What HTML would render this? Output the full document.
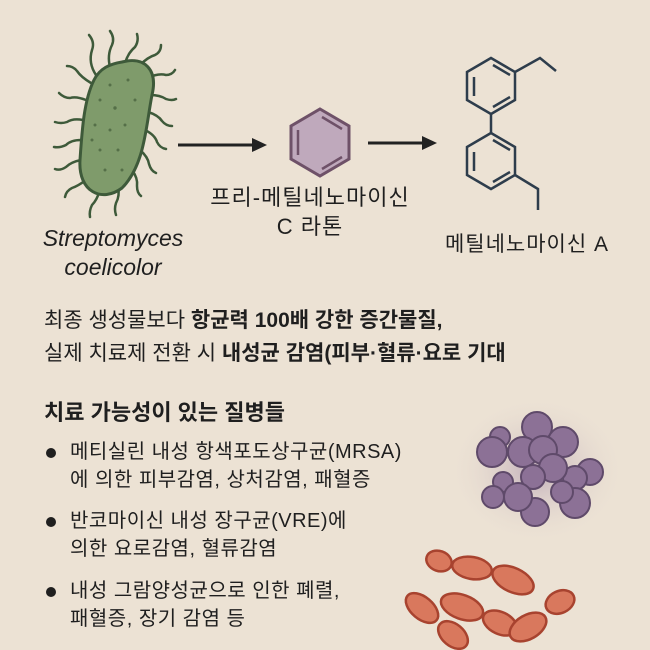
<!DOCTYPE html>
<html><head><meta charset="utf-8"><style>
html,body{margin:0;padding:0}
body{width:650px;height:650px;background:#ece2d4;position:relative;overflow:hidden;font-family:"Liberation Sans","Noto Sans CJK KR",sans-serif;color:#1f1f1f}
.t{position:absolute;white-space:nowrap}
.c{transform:translateX(-50%);text-align:center}
.b{font-weight:bold}
.dot{position:absolute;width:10px;height:10px;border-radius:50%;background:#1f1f1f}
</style></head><body>
<svg width="650" height="650" style="position:absolute;left:0;top:0">
<defs>
<radialGradient id="halo"><stop offset="0" stop-color="#b8a3b5" stop-opacity=".85"/><stop offset="1" stop-color="#ece2d4" stop-opacity="0"/></radialGradient>
</defs>
<g stroke="#3e5a3a" stroke-width="2.5" fill="none" stroke-linecap="round">
<path d="M96 75 q-8 -12 -4 -25 q3 -8 -3 -15"/>
<path d="M110 67 q-3 -12 2 -22 q3 -7 -2 -14"/>
<path d="M125 63 q3 -10 10 -16 q4 -6 2 -13"/>
<path d="M140 65 q8 -8 15 -10 q6 -3 6 -10"/>
<path d="M148 78 q10 -5 18 -3 q6 0 9 -5"/>
<path d="M150 95 q10 0 16 4 q6 2 10 0"/>
<path d="M148 112 q10 3 14 9 q4 5 10 5"/>
<path d="M145 130 q10 5 12 12 q3 6 9 7"/>
<path d="M140 150 q8 7 9 14 q2 7 7 9"/>
<path d="M132 170 q6 8 5 16 q0 7 4 10"/>
<path d="M118 186 q2 10 -2 17 q-2 6 0 12"/>
<path d="M100 190 q-3 10 -8 15 q-3 6 -2 12"/>
<path d="M86 180 q-8 6 -14 8 q-6 3 -7 9"/>
<path d="M81 160 q-10 2 -15 7 q-6 4 -11 2"/>
<path d="M81 140 q-10 0 -15 5 q-6 3 -12 2"/>
<path d="M83 120 q-10 -2 -16 2 q-6 2 -12 0"/>
<path d="M86 100 q-10 -4 -16 -2 q-6 0 -11 -5"/>
<path d="M91 83 q-10 -6 -14 -12 q-4 -5 -10 -5"/>
</g>
<path d="M122 62 C145 56 158 70 152 95 C146 125 145 165 122 188 C102 203 78 192 80 160 C82 130 84 100 94 80 C100 68 110 64 122 62 Z" fill="#7f9b6b" stroke="#3e5a3a" stroke-width="3"/>
<g fill="#556f48">
<circle cx="110" cy="85" r="1.5"/><circle cx="128" cy="80" r="1.5"/><circle cx="100" cy="100" r="1.5"/><circle cx="115" cy="108" r="1.7"/><circle cx="135" cy="100" r="1.5"/><circle cx="95" cy="125" r="1.5"/><circle cx="110" cy="130" r="1.5"/><circle cx="125" cy="125" r="1.5"/><circle cx="100" cy="150" r="1.5"/><circle cx="118" cy="150" r="1.5"/><circle cx="105" cy="170" r="1.5"/><circle cx="122" cy="170" r="1.5"/><circle cx="92" cy="140" r="1.5"/>
</g>
<g stroke="#222" stroke-width="3"><line x1="178" y1="145" x2="255" y2="145"/><line x1="368" y1="143" x2="425" y2="143"/></g>
<polygon points="267,145 252,138 252,152" fill="#222"/>
<polygon points="437,143 422,136 422,150" fill="#222"/>
<polygon points="320,109 349,126 349,159 320,176 291,159 291,126" fill="#bfa9bc" stroke="#6e5168" stroke-width="3"/>
<g stroke="#6e5168" stroke-width="2.5"><line x1="298" y1="130" x2="298" y2="155"/><line x1="322" y1="117" x2="342" y2="129"/><line x1="342" y1="157" x2="322" y2="169"/></g>
<g stroke="#2e3d4c" stroke-width="2.5" fill="none">
<polygon points="491,58 515,72 515,100 491,114 467,100 467,72"/>
<polygon points="491,133 515,147 515,175 491,189 467,175 467,147"/>
<line x1="491" y1="114" x2="491" y2="133"/>
<path d="M515 72 L540 58 L556 71"/>
<path d="M515 175 L538 189 L538 210"/>
<line x1="474" y1="77" x2="474" y2="96"/><line x1="493" y1="65" x2="510" y2="75"/><line x1="493" y1="107" x2="510" y2="97"/>
<line x1="474" y1="152" x2="474" y2="171"/><line x1="493" y1="140" x2="510" y2="150"/><line x1="493" y1="182" x2="510" y2="172"/>
</g>
<ellipse cx="537" cy="470" rx="90" ry="75" fill="url(#halo)"/>
<g fill="#8c7196" stroke="#5f4a6a" stroke-width="2">
<circle cx="500" cy="437" r="10"/><circle cx="492" cy="452" r="15"/><circle cx="537" cy="427" r="15"/><circle cx="563" cy="442" r="15"/><circle cx="523" cy="452" r="15"/><circle cx="543" cy="450" r="14"/><circle cx="590" cy="472" r="13"/><circle cx="575" cy="478" r="12"/><circle cx="553" cy="468" r="14"/><circle cx="533" cy="477" r="12"/><circle cx="503" cy="482" r="10"/><circle cx="493" cy="497" r="11"/><circle cx="535" cy="512" r="14"/><circle cx="518" cy="497" r="14"/><circle cx="575" cy="503" r="15"/><circle cx="562" cy="492" r="11"/>
</g>
<g fill="#d9785d" stroke="#a8432f" stroke-width="2.5">
<ellipse cx="439" cy="561" rx="13" ry="10" transform="rotate(20 439 561)"/>
<ellipse cx="472" cy="568" rx="20" ry="11" transform="rotate(10 472 568)"/>
<ellipse cx="513" cy="580" rx="22" ry="12" transform="rotate(25 513 580)"/>
<ellipse cx="453" cy="635" rx="17" ry="11" transform="rotate(40 453 635)"/>
<ellipse cx="422" cy="608" rx="19" ry="11" transform="rotate(40 422 608)"/>
<ellipse cx="462" cy="607" rx="22" ry="12" transform="rotate(20 462 607)"/>
<ellipse cx="500" cy="623" rx="18" ry="11" transform="rotate(25 500 623)"/>
<ellipse cx="560" cy="602" rx="15" ry="11" transform="rotate(-25 560 602)"/>
<ellipse cx="528" cy="627" rx="20" ry="12" transform="rotate(-30 528 627)"/>
</g>
</svg>
<div class="t c" style="left:113px;top:224px;font-size:23px;font-style:italic;line-height:29px">Streptomyces<br>coelicolor</div>
<div class="t c" style="left:310px;top:183px;font-size:22px;line-height:29px;letter-spacing:1px">프리-메틸네노마이신<br>C 라톤</div>
<div class="t c" style="left:527px;top:228px;font-size:21px;letter-spacing:1px">메틸네노마이신 A</div>
<div class="t" style="left:44px;top:304px;font-size:21px;line-height:33px">최종 생성물보다 <b>항균력 100배 강한 증간물질,</b><br>실제 치료제 전환 시 <b>내성균 감염(피부·혈류·요로 기대</b></div>
<div class="t b" style="left:44px;top:395px;font-size:22px">치료 가능성이 있는 질병들</div>
<div class="dot" style="left:46px;top:448px"></div>
<div class="dot" style="left:46px;top:517px"></div>
<div class="dot" style="left:46px;top:587px"></div>
<div class="t" style="left:70px;top:438px;font-size:20px;line-height:28px;letter-spacing:0.5px">메티실린 내성 항색포도상구균(MRSA)<br>에 의한 피부감염, 상처감염, 패혈증</div>
<div class="t" style="left:70px;top:507px;font-size:20px;line-height:28px;letter-spacing:0.5px">반코마이신 내성 장구균(VRE)에<br>의한 요로감염, 혈류감염</div>
<div class="t" style="left:70px;top:577px;font-size:20px;line-height:28px;letter-spacing:0.5px">내성 그람양성균으로 인한 폐렬,<br>패혈증, 장기 감염 등</div>
</body></html>
